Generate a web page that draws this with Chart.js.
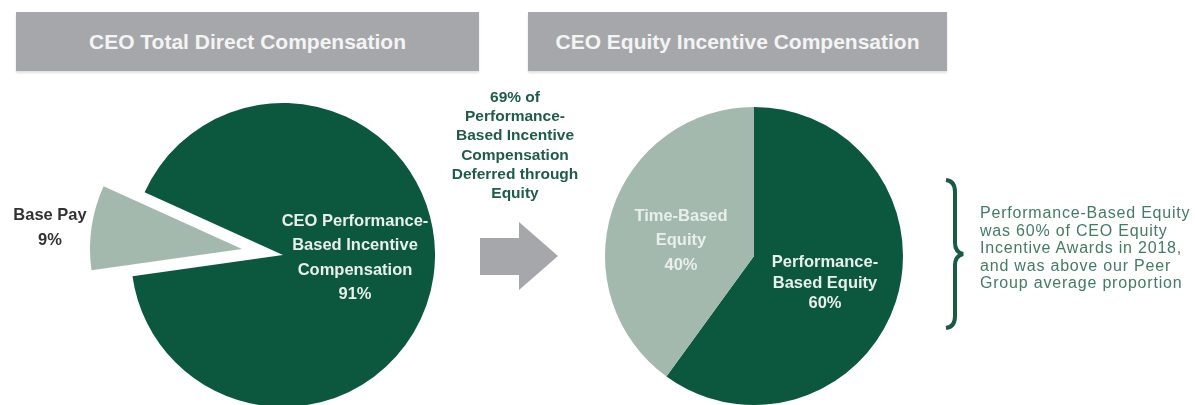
<!DOCTYPE html>
<html>
<head>
<meta charset="utf-8">
<script src="https://cdn.jsdelivr.net/npm/chart.js@4"></script>
<style>
  html, body { margin: 0; padding: 0; background: #fff; }
  body { width: 1195px; height: 405px; position: relative; overflow: hidden;
         font-family: "Liberation Sans", Arial, sans-serif; }
  .hdr { position: absolute; top: 12px; height: 59px; background: #a6a7ab;
         color: #f4f4f4; font-weight: bold; font-size: 21px; line-height: 59px;
         text-align: center; box-shadow: 0 2px 2px rgba(0,0,0,0.12); }
  .lbl { position: absolute; text-align: center; font-weight: bold; white-space: nowrap; }
  canvas { position: absolute; }
</style>
</head>
<body>
<div class="hdr" style="left:16px;width:463px">CEO Total Direct Compensation</div>
<div class="hdr" style="left:528px;width:419px">CEO Equity Incentive Compensation</div>

<div style="position:absolute;left:131px;top:103px;width:304px;height:304px"><canvas id="tdcChart"></canvas></div>
<div style="position:absolute;left:90px;top:97px;width:304px;height:304px"><canvas id="tdcBaseChart"></canvas></div>
<div style="position:absolute;left:605px;top:107px;width:298px;height:298px"><canvas id="eqChart"></canvas></div>

<svg width="1195" height="405" style="position:absolute;left:0;top:0">
  <polygon points="480,238 519,238 519,222 558,256 519,290 519,275 480,275" fill="#a6a7ab"/>
  <path d="M946,180 Q955,181 955,192 L955,243 Q955,252 963,254 Q955,256 955,265 L955,316 Q955,327 946,328"
        fill="none" stroke="#1b5a42" stroke-width="4"/>
</svg>

<div id="midText" class="lbl" style="left:415px;width:200px;top:87px;font-size:15.5px;line-height:19.2px;color:#1f5c47"></div>
<div id="descText" style="position:absolute;left:980px;top:204px;font-size:16px;line-height:17.6px;letter-spacing:0.8px;color:#437c64;white-space:nowrap"></div>

<div id="lblBase" class="lbl" style="left:0;width:100px;top:202px;font-size:16.5px;line-height:25px;color:#333"></div>
<div id="lblPerf" class="lbl" style="left:255px;width:200px;top:208px;font-size:16.5px;line-height:24.3px;color:#e9efeb"></div>
<div id="lblTime" class="lbl" style="left:581px;width:200px;top:203px;font-size:16.5px;line-height:24.3px;color:#e9efeb"></div>
<div id="lblPerfEq" class="lbl" style="left:725px;width:200px;top:251px;font-size:16.5px;line-height:20.5px;color:#e9efeb"></div>

<script>
// CEO total direct compensation
const tdcLabels = [['Base Pay'], ['CEO Performance-', 'Based Incentive', 'Compensation']];
const tdcValues = [9, 91];

// CEO equity incentive compensation
const eqLabels = [['Performance-', 'Based Equity'], ['Time-Based', 'Equity']];
const eqValues = [60, 40];

const midLines = ['69% of', 'Performance-', 'Based Incentive', 'Compensation', 'Deferred through', 'Equity'];
const descLines = ['Performance-Based Equity', 'was 60% of CEO Equity', 'Incentive Awards in 2018,',
                   'and was above our Peer', 'Group average proportion'];

const darkGreen = '#0b583e';
const lightGreen = '#a3b9ad';
const clear = 'rgba(0,0,0,0)';

const pieConfig = (labels, values, colors, rotation) => ({
    type: 'pie',
    data: {
        labels: labels.map(l => l.join(' ')),
        datasets: [{
            data: values,
            backgroundColor: colors,
            borderWidth: 0,
            hoverOffset: 0
        }]
    },
    options: {
        responsive: true,
        maintainAspectRatio: false,
        animation: false,
        events: [],
        rotation,
        layout: { padding: 0 },
        plugins: { legend: { display: false }, tooltip: { enabled: false } }
    }
});

// main pie with the base pay slice left empty, and the base pay slice pulled out on its own layer
new Chart(document.getElementById('tdcChart'), pieConfig(tdcLabels, tdcValues, [clear, darkGreen], 262));
new Chart(document.getElementById('tdcBaseChart'), pieConfig(tdcLabels, tdcValues, [lightGreen, clear], 262));
new Chart(document.getElementById('eqChart'), pieConfig(eqLabels, eqValues, [darkGreen, lightGreen], 0));

const lines = (arr) => arr.join('<br>');
document.getElementById('midText').innerHTML = lines(midLines);
document.getElementById('descText').innerHTML = lines(descLines);
document.getElementById('lblBase').innerHTML = lines([...tdcLabels[0], tdcValues[0] + '%']);
document.getElementById('lblPerf').innerHTML = lines([...tdcLabels[1], tdcValues[1] + '%']);
document.getElementById('lblPerfEq').innerHTML = lines([...eqLabels[0], eqValues[0] + '%']);
document.getElementById('lblTime').innerHTML = lines([...eqLabels[1], eqValues[1] + '%']);
</script>
</body>
</html>
